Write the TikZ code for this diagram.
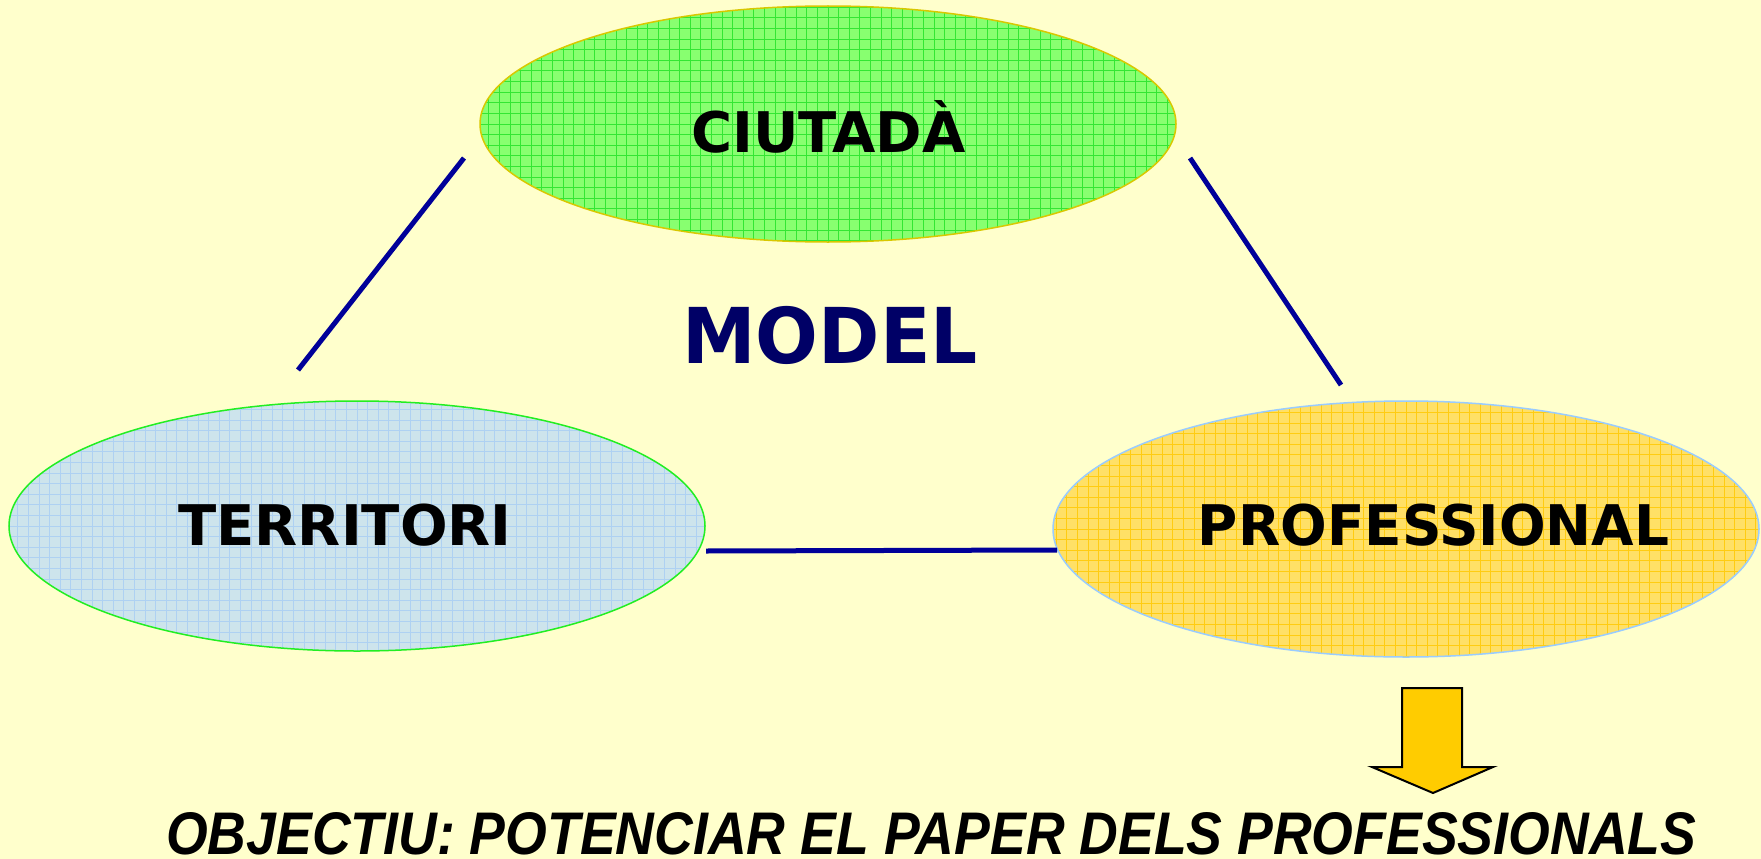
\documentclass[tikz,border=0pt]{standalone}
\usepackage{fontspec}
\usetikzlibrary{shapes.geometric}
\newfontfamily\dvsans{DejaVu Sans}
\newfontfamily\libsans{Liberation Sans}
\definecolor{bgyellow}{HTML}{FFFFCC}
\definecolor{gfill}{HTML}{88FF70}
\definecolor{ggrid}{HTML}{33E633}
\definecolor{gedge}{HTML}{D8C800}
\definecolor{bfill}{HTML}{CDE4EC}
\definecolor{bgrid}{HTML}{AED1F2}
\definecolor{bedge}{HTML}{22EE22}
\definecolor{yfill}{HTML}{FFE066}
\definecolor{ygrid}{HTML}{FFCC11}
\definecolor{yedge}{HTML}{99CCFF}
\definecolor{linkblue}{HTML}{000099}
\definecolor{modelblue}{HTML}{000066}
\definecolor{arrowfill}{HTML}{FFCC00}
\tikzset{
  gridellipse/.style n args={3}{ellipse, inner sep=0pt, draw=#3, line width=1.5pt,
    path picture={
      \fill[#1] (path picture bounding box.south west) rectangle (path picture bounding box.north east);
      \draw[#2, line width=1pt, step=10.6pt] (path picture bounding box.south west) grid (path picture bounding box.north east);
    }},
  celltext/.style={anchor=base, inner sep=0pt, font=\dvsans\bfseries\fontsize{56}{60}\selectfont, text=black},
  link/.style={draw=linkblue, line width=5pt},
}
\begin{document}
\begin{tikzpicture}[x=1pt, y=-1pt]
\useasboundingbox (0,0) rectangle (1761,859);
\fill[bgyellow] (0,0) rectangle (1761,859);

% ellipses
\node[gridellipse={gfill}{ggrid}{gedge}, minimum width=696pt, minimum height=236pt] (ciutada) at (828,124) {};
\node[gridellipse={bfill}{bgrid}{bedge}, minimum width=696pt, minimum height=250pt] (territori) at (357,526) {};
\node[gridellipse={yfill}{ygrid}{yedge}, minimum width=706pt, minimum height=256pt] (professional) at (1406,529) {};

% labels
\node[celltext] (tciutada) at (828.5,152) {CIUTADÀ};
\node[celltext] (tterritori) at (345,545) {TERRITORI};
\node[celltext] (tprofessional) at (1433.5,545) {\scalebox{0.98}[1]{PROFESSIONAL}};
\node[anchor=base, inner sep=0pt, text=modelblue, font=\dvsans\bfseries\fontsize{77}{80}\selectfont] (model) at (830,363) {\scalebox{0.96}[1]{MODEL}};

% connectors
\coordinate (l1a) at (464,158);
\coordinate (l1b) at (298,370);
\coordinate (l2a) at (1190,158);
\coordinate (l2b) at (1341,385);
\coordinate (l3a) at (706,551);
\coordinate (l3b) at (1057,550);
\draw[link] (l1a) -- (l1b);
\draw[link] (l2a) -- (l2b);
\draw[link] (l3a) -- (l3b);

% down arrow
\draw[fill=arrowfill, draw=black, line width=2pt, line join=miter]
  (1402,688) -- (1462,688) -- (1462,767) -- (1493,767) -- (1433,793) -- (1372,767) -- (1402,767) -- cycle;

% objective
\node[anchor=base west, inner sep=0pt, font=\libsans\bfseries\itshape] (objectiu) at (166,854)
  {\resizebox{1530pt}{42pt}{OBJECTIU: POTENCIAR EL PAPER DELS PROFESSIONALS}};
\end{tikzpicture}
\end{document}
